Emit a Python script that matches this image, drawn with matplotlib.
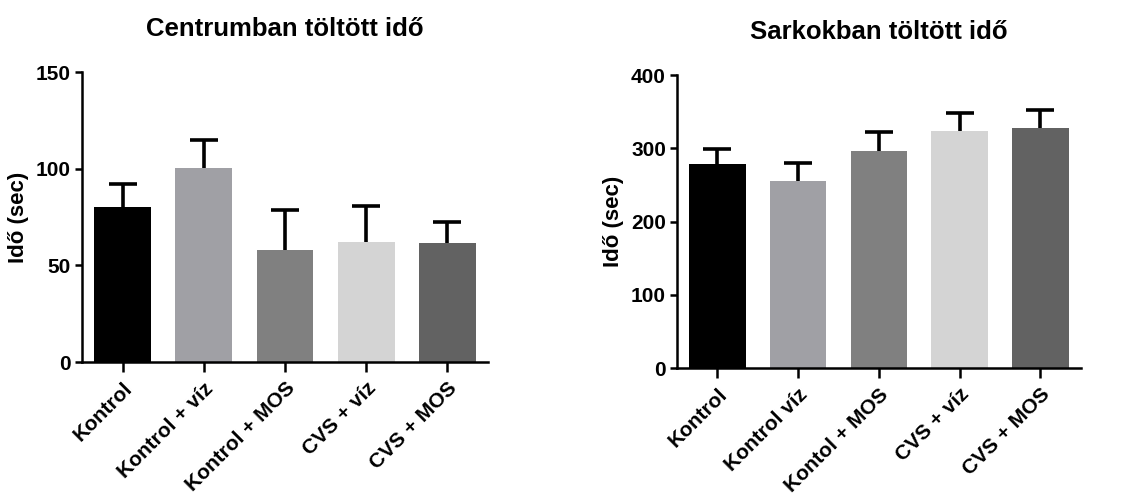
import numpy as np
import matplotlib.pyplot as plt
import matplotlib as mpl

#-----------------------------------------------------------------
#                            1  Input
#-----------------------------------------------------------------

labels_centrum = ['Kontrol', 'Kontrol + víz', 'Kontrol + MOS', 'CVS + víz', 'CVS + MOS']
mean_centrum = [80, 100.5, 58, 62, 61.5]
sem_centrum = [12, 14.5, 20.5, 18.5, 11]

labels_sarok = ['Kontrol', 'Kontrol víz', 'Kontol + MOS', 'CVS + víz', 'CVS + MOS']
mean_sarok = [279, 256, 297, 324, 328]
sem_sarok = [20, 24, 25, 24, 24]

colors = ['#000000', '#A0A0A5', '#808080', '#D4D4D4', '#626262']

mpl.rc('font', family=['Liberation Sans', 'DejaVu Sans'], weight='bold', size=15)
mpl.rcParams['axes.linewidth'] = 1.8

fig = plt.figure(figsize=(11.34, 4.94), dpi=100)

def barpanel(ax, labels, mean, sem, ymax, ystep, title):
    x = np.arange(len(labels))
    eb = ax.errorbar(x, mean, yerr=[np.zeros(len(mean)), sem], fmt='none', ecolor='k',
                     elinewidth=2.6, capsize=10, capthick=2.6, zorder=1)
    eb[1][0].set_visible(False)  # only the upper cap
    ax.bar(x, mean, width=0.7, color=colors, zorder=2)
    ax.set_xlim(-0.5, 4.5)
    ax.set_ylim(0, ymax)
    ax.set_yticks(np.arange(0, ymax + 1, ystep))
    ax.set_xticks(x)
    ax.set_xticklabels(labels, rotation=45, ha='right', rotation_mode='anchor')
    for s in ['top', 'right']:
        ax.spines[s].set_visible(False)
    ax.tick_params(axis='both', width=1.8, length=5, labelsize=15, pad=3)
    ax.tick_params(axis='x', length=7, pad=5)
    ax.set_ylabel('Idő (sec)', fontsize=16, fontweight='bold', labelpad=5)
    ax.set_title(title, fontsize=18.5, fontweight='bold', pad=26)

ax1 = fig.add_axes([0.0723, 0.267, 0.358, 0.587])
barpanel(ax1, labels_centrum, mean_centrum, sem_centrum, 150, 50, 'Centrumban töltött idő')

ax2 = fig.add_axes([0.597, 0.255, 0.356, 0.593])
barpanel(ax2, labels_sarok, mean_sarok, sem_sarok, 400, 100, 'Sarkokban töltött idő')

plt.savefig('out.png', dpi=100)
plt.close()
